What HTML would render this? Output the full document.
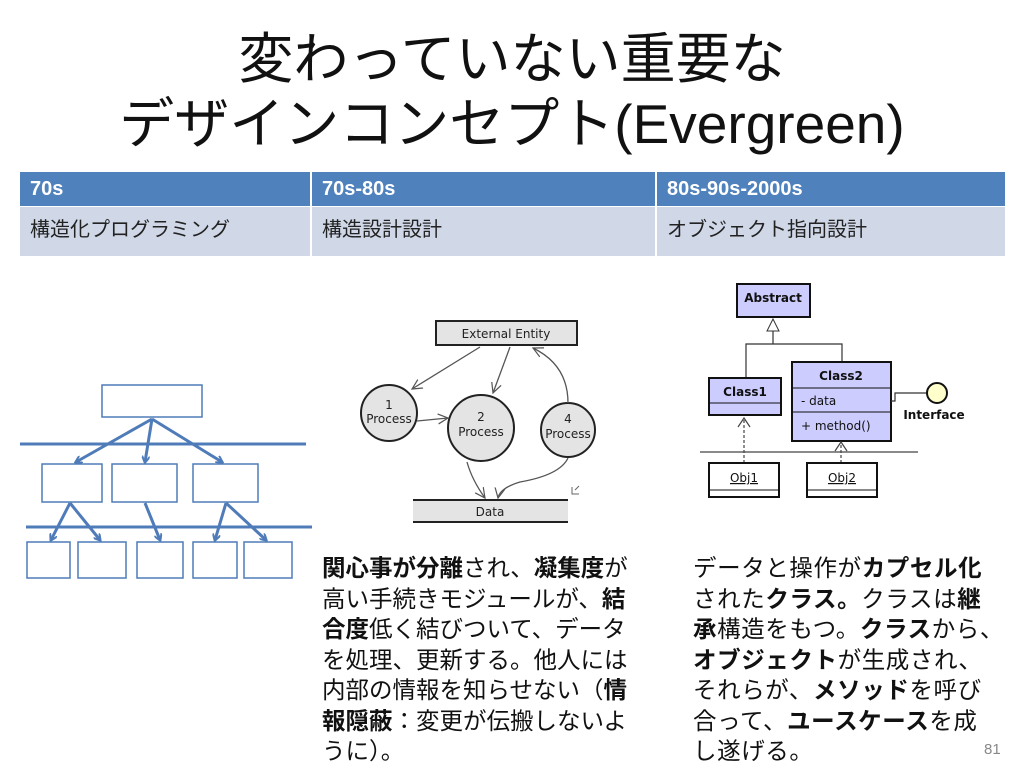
<!DOCTYPE html>
<html><head><meta charset="utf-8"><style>
body{margin:0;width:1024px;height:773px;background:#fff;position:relative;overflow:hidden;font-family:"Liberation Sans","Noto Sans CJK JP",sans-serif;}
.t{position:absolute;left:0;width:1024px;text-align:center;font-size:55px;color:#111;white-space:nowrap;line-height:64px;}
.c{position:absolute;box-sizing:border-box;padding-left:10px;white-space:nowrap;}
.h{top:172px;height:34px;background:#4f81bd;color:#fff;font-weight:bold;font-size:20px;line-height:34px;}
.r{top:207px;height:49px;background:#d0d8e8;color:#222;font-size:20px;line-height:46px;}
.p{position:absolute;font-size:23.5px;line-height:30.5px;color:#111;white-space:nowrap;}
.p b{font-weight:bold}
</style></head><body>
<div class="t" style="top:27px">変わっていない重要な</div>
<div class="t" style="top:92px">デザインコンセプト(Evergreen)</div>
<div class="c h" style="left:20px;width:290px">70s</div>
<div class="c h" style="left:312px;width:343px">70s-80s</div>
<div class="c h" style="left:657px;width:348px">80s-90s-2000s</div>
<div class="c r" style="left:20px;width:290px">構造化プログラミング</div>
<div class="c r" style="left:312px;width:343px">構造設計設計</div>
<div class="c r" style="left:657px;width:348px">オブジェクト指向設計</div>

<svg style="position:absolute;left:0;top:0" width="1024" height="773">
<defs>
<marker id="ba" markerWidth="8" markerHeight="8" refX="6" refY="4" orient="auto" markerUnits="userSpaceOnUse"><path d="M0,0 L7,4 L0,8" fill="none" stroke="#4f7cb8" stroke-width="2"/></marker>
<marker id="ga" markerWidth="12" markerHeight="12" refX="10" refY="6" orient="auto" markerUnits="userSpaceOnUse"><path d="M0,1 L10,6 L0,11" fill="none" stroke="#555" stroke-width="1.2"/></marker>
</defs>
<g stroke="#4f7cb8" stroke-width="3" fill="#fff">
<rect x="102" y="385" width="100" height="32" stroke-width="1.5"/>
<line x1="20" y1="444" x2="306" y2="444"/>
<line x1="26" y1="527" x2="312" y2="527"/>
<g stroke-width="1.5">
<rect x="42" y="464" width="60" height="38"/><rect x="112" y="464" width="65" height="38"/><rect x="193" y="464" width="65" height="38"/>
<rect x="27" y="542" width="43" height="36"/><rect x="78" y="542" width="48" height="36"/><rect x="137" y="542" width="46" height="36"/><rect x="193" y="542" width="44" height="36"/><rect x="244" y="542" width="48" height="36"/>
</g>
<g fill="none" marker-end="url(#ba)">
<line x1="152" y1="419" x2="76" y2="462"/><line x1="152" y1="419" x2="145" y2="462"/><line x1="152" y1="419" x2="222" y2="462"/>
<line x1="70" y1="503" x2="51" y2="540"/><line x1="70" y1="503" x2="100" y2="540"/>
<line x1="145" y1="503" x2="160" y2="540"/>
<line x1="226" y1="503" x2="215" y2="540"/><line x1="226" y1="503" x2="266" y2="540"/>
</g>
</g>

<g font-family="DejaVu Sans, sans-serif" font-size="12" fill="#222" text-anchor="middle">
<rect x="436" y="321" width="141" height="24" fill="#e4e4e4" stroke="#222" stroke-width="2"/>
<text x="506" y="338">External Entity</text>
<rect x="413" y="500" width="155" height="22" fill="#e4e4e4"/>
<line x1="413" y1="500" x2="568" y2="500" stroke="#222" stroke-width="2"/>
<line x1="413" y1="522" x2="568" y2="522" stroke="#222" stroke-width="2"/>
<text x="490" y="516">Data</text>
<circle cx="389" cy="413" r="28" fill="#e4e4e4" stroke="#222" stroke-width="2"/>
<text x="389" y="409">1</text><text x="389" y="423">Process</text>
<circle cx="481" cy="428" r="33" fill="#e4e4e4" stroke="#222" stroke-width="2"/>
<text x="481" y="421">2</text><text x="481" y="436">Process</text>
<circle cx="568" cy="430" r="27" fill="#e4e4e4" stroke="#222" stroke-width="2"/>
<text x="568" y="423">4</text><text x="568" y="438">Process</text>
<g fill="none" stroke="#555" stroke-width="1.3" marker-end="url(#ga)">
<path d="M480,347 L412,389"/>
<path d="M510,347 L493,393"/>
<path d="M568,403 Q568,365 533,348"/>
<path d="M417,421 L448,418"/>
<path d="M467,462 Q472,480 485,498"/>
<path d="M568,458 Q560,475 520,482 Q500,488 498,498"/>
</g>
<path d="M572,487 v7 h7 M575,490 l4,-4" stroke="#666" fill="none" stroke-width="1"/>
</g>

<g font-family="DejaVu Sans, sans-serif" font-size="12" fill="#111">
<rect x="737" y="284" width="73" height="33" fill="#ccccff" stroke="#111" stroke-width="2"/>
<text x="773" y="302" text-anchor="middle" font-weight="bold">Abstract</text>
<path d="M773,319 L767,331 L779,331 Z" fill="#fff" stroke="#333"/>
<path d="M773,331 V344 M746,378 V344 H842 V362" fill="none" stroke="#333" stroke-width="1.2"/>
<rect x="709" y="378" width="72" height="37" fill="#ccccff" stroke="#111" stroke-width="2"/>
<line x1="709" y1="403" x2="781" y2="403" stroke="#111"/>
<text x="745" y="396" text-anchor="middle" font-weight="bold">Class1</text>
<rect x="792" y="362" width="99" height="79" fill="#ccccff" stroke="#111" stroke-width="2"/>
<line x1="792" y1="388" x2="891" y2="388" stroke="#111"/>
<line x1="792" y1="412" x2="891" y2="412" stroke="#111"/>
<text x="841" y="380" text-anchor="middle" font-weight="bold">Class2</text>
<text x="801" y="405">- data</text>
<text x="801" y="430">+ method()</text>
<path d="M891,401 H895 V393 H927" fill="none" stroke="#333" stroke-width="1.2"/>
<circle cx="937" cy="393" r="10" fill="#ffffcc" stroke="#111" stroke-width="2"/>
<text x="934" y="419" text-anchor="middle" font-weight="bold" font-size="12">Interface</text>
<line x1="700" y1="452" x2="918" y2="452" stroke="#444" stroke-width="1.2"/>
<path d="M744,463 V418" fill="none" stroke="#444" stroke-width="1.2" stroke-dasharray="3,2"/>
<path d="M738,427 L744,418 L750,427" fill="none" stroke="#444" stroke-width="1.2"/>
<path d="M841,463 V442" fill="none" stroke="#444" stroke-width="1.2" stroke-dasharray="3,2"/>
<path d="M835,451 L841,442 L847,451" fill="none" stroke="#444" stroke-width="1.2"/>
<rect x="709" y="463" width="70" height="34" fill="#fff" stroke="#111" stroke-width="2"/>
<line x1="709" y1="490" x2="779" y2="490" stroke="#111"/>
<text x="744" y="482" text-anchor="middle" text-decoration="underline">Obj1</text>
<rect x="807" y="463" width="70" height="34" fill="#fff" stroke="#111" stroke-width="2"/>
<line x1="807" y1="490" x2="877" y2="490" stroke="#111"/>
<text x="842" y="482" text-anchor="middle" text-decoration="underline">Obj2</text>
</g>
</svg>

<div class="p" style="left:322px;top:553px"><b>関心事が分離</b>され、<b>凝集度</b>が<br>高い手続きモジュールが、<b>結</b><br><b>合度</b>低く結びついて、データ<br>を処理、更新する。他人には<br>内部の情報を知らせない（<b>情</b><br><b>報隠蔽</b>：変更が伝搬しないよ<br>うに）。</div>
<div class="p" style="left:693px;top:553px;letter-spacing:0.6px">データと操作が<b>カプセル化</b><br>された<b>クラス。</b>クラスは<b>継</b><br><b>承</b>構造をもつ。<b>クラス</b>から、<br><b>オブジェクト</b>が生成され、<br>それらが、<b>メソッド</b>を呼び<br>合って、<b>ユースケース</b>を成<br>し遂げる。</div>
<div style="position:absolute;left:984px;top:741px;font-size:15px;color:#888">81</div>
</body></html>
